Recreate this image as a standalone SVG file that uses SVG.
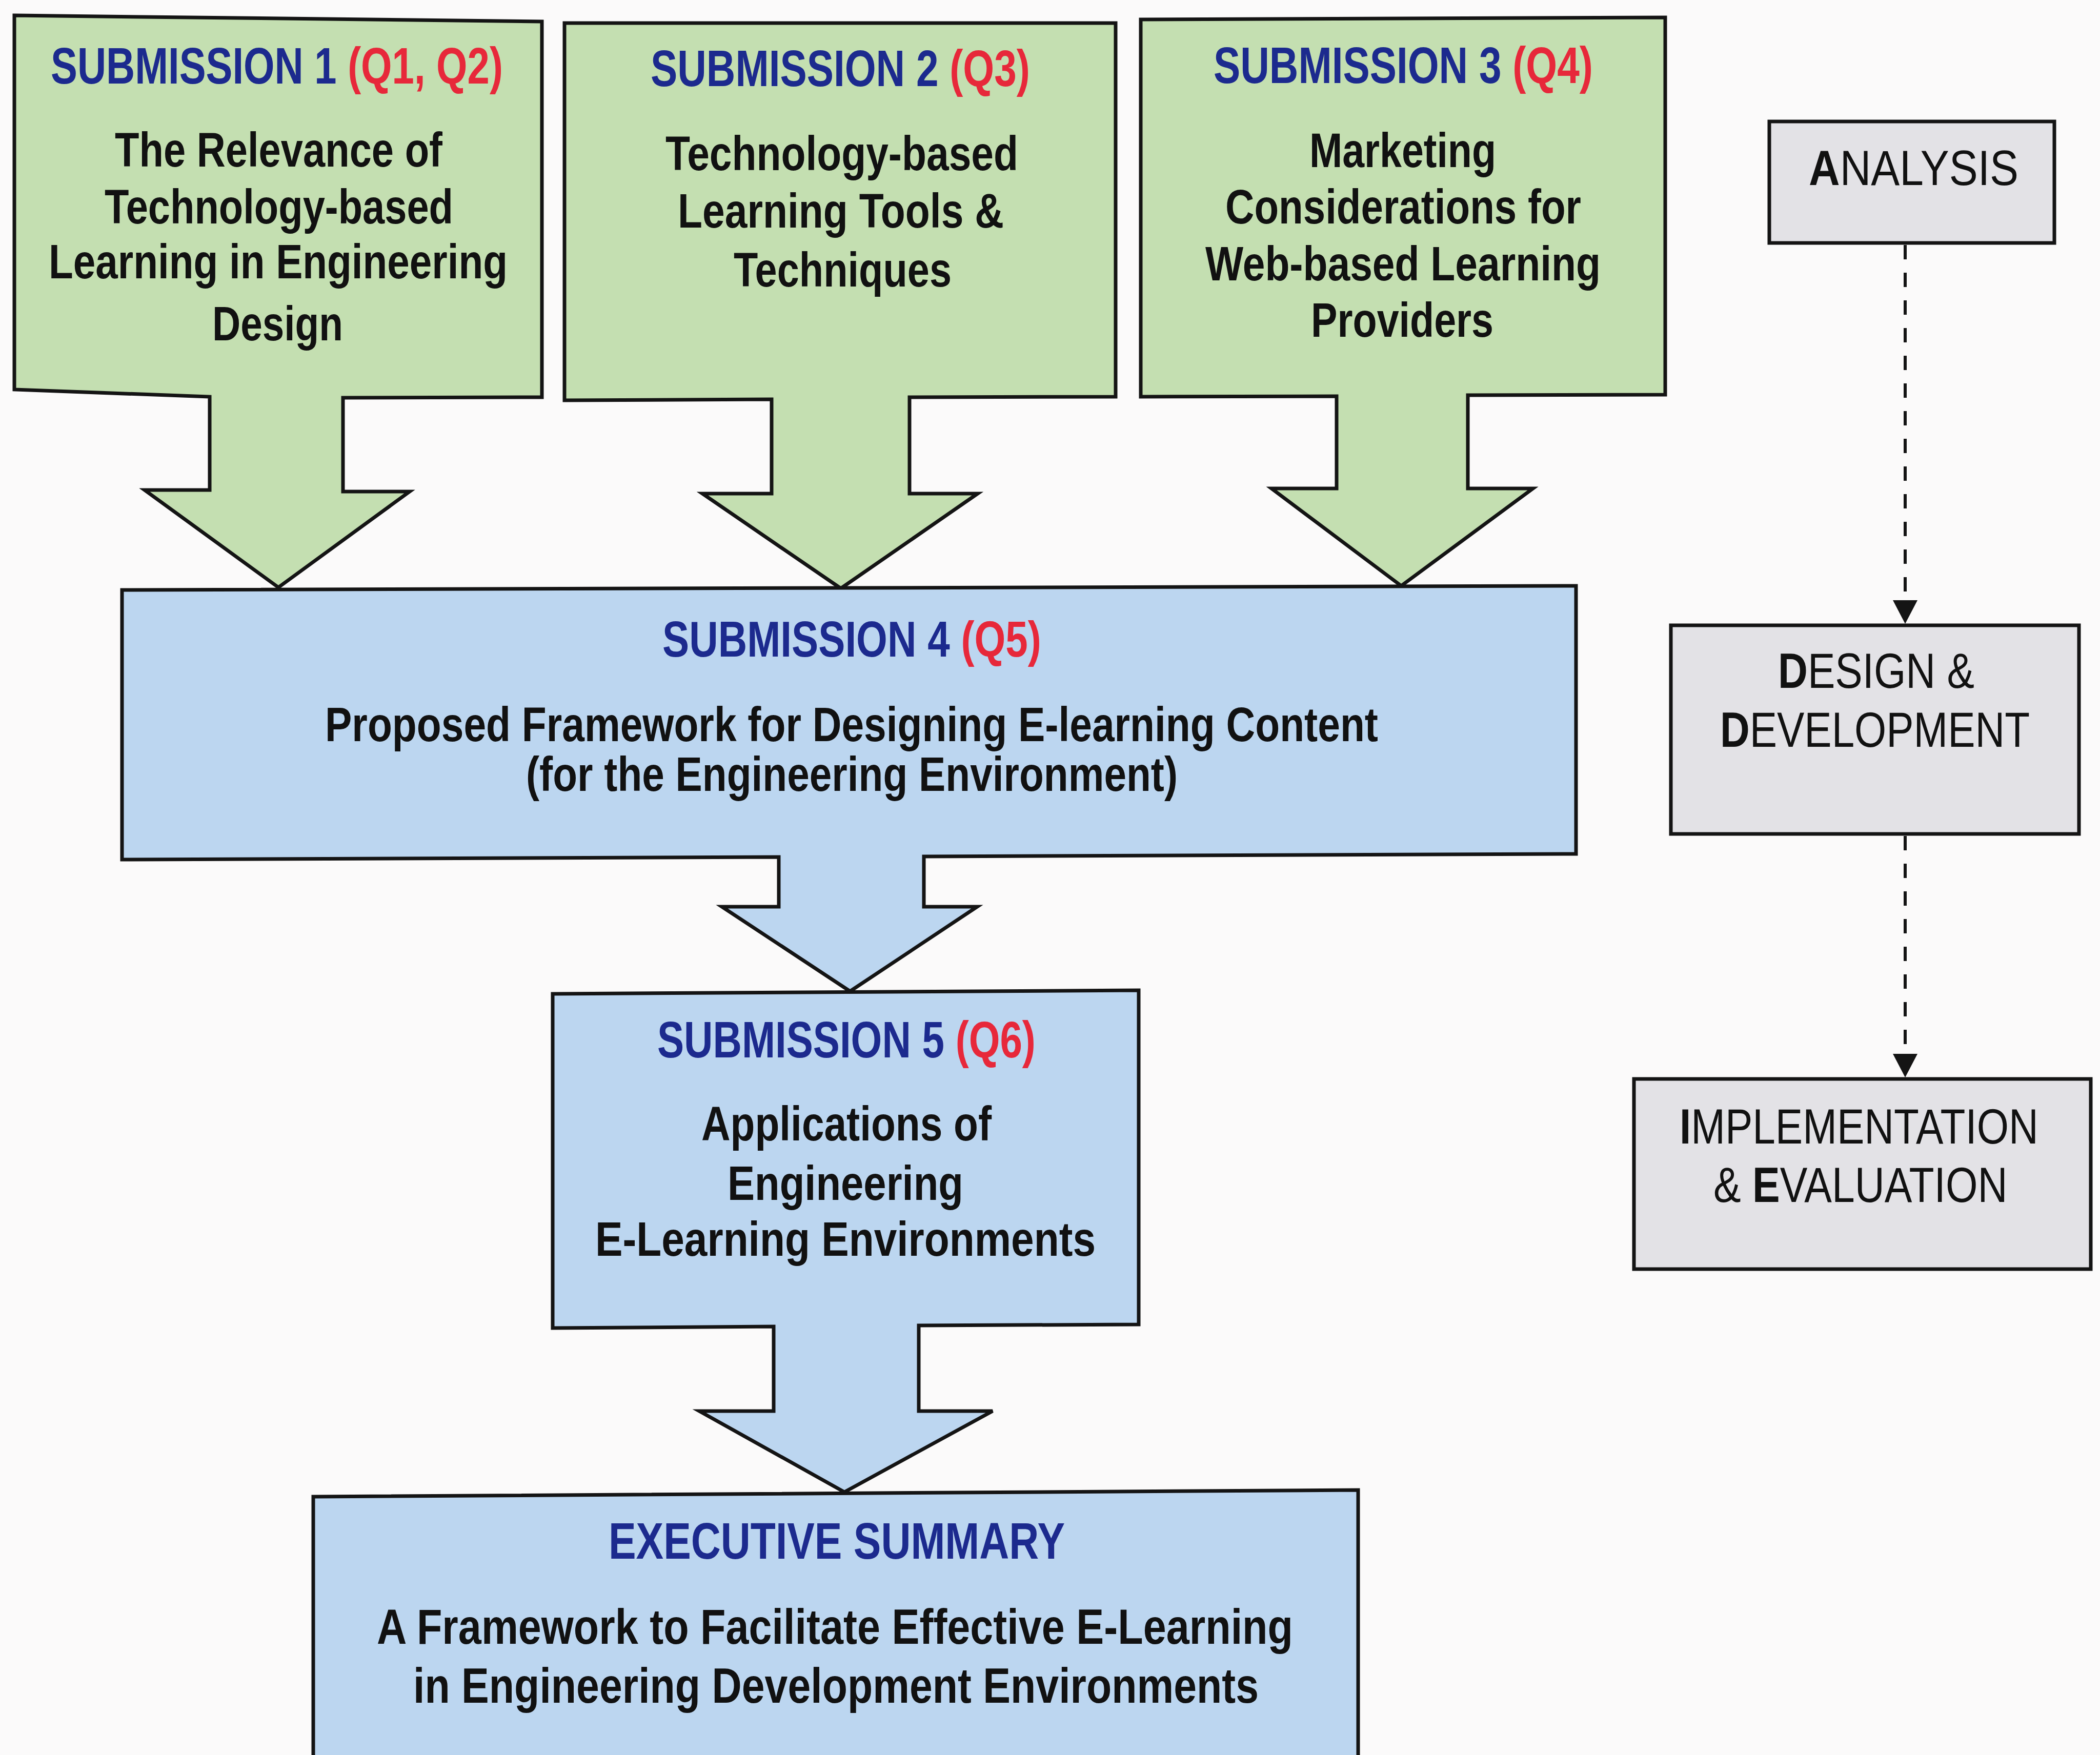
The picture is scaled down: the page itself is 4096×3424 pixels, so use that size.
<svg xmlns="http://www.w3.org/2000/svg" width="4096" height="3424" viewBox="0 0 4096 3424">
  <defs>
    <style>
      .bg { fill: #fbfafa; }
      .box { stroke: #141414; stroke-width: 7; stroke-linejoin: miter; }
      .green { fill: #c4dfb1; }
      .blue { fill: #bcd6f0; }
      .grey { fill: #e3e2e6; }
      .t { font-family: "Liberation Sans", Arial, sans-serif; font-weight: bold; fill: #111111; }
      .hd { font-size: 100px; }
      .bd { font-size: 94px; }
      .navy { fill: #1c2a8e; }
      .red { fill: #e7283a; }
      .ph { font-family: "Liberation Sans", Arial, sans-serif; font-weight: normal; font-size: 96px; fill: #111111; }
      .k { font-weight: bold; }
      .dash { fill: none; stroke: #141414; stroke-width: 6; stroke-dasharray: 28 26; }
    </style>
    <marker id="head" markerUnits="userSpaceOnUse" viewBox="0 0 46 48" markerWidth="46" markerHeight="48" refX="46" refY="24" orient="auto">
      <path d="M0,0 L46,24 L0,48 z" fill="#141414"/>
    </marker>
  </defs>

  <rect class="bg" x="0" y="0" width="4096" height="3424"/>

  <!-- Submission 1 -->
  <g id="submission1">
    <polygon class="box green" points="28,30 1057,42 1057,775 669,776 669,959 799,959 543,1146 282,956 409,956 409,774 28,760"/>
    <text class="t hd" transform="translate(99,163) scale(0.778,1)"><tspan class="navy">SUBMISSION 1 </tspan><tspan class="red">(Q1, Q2)</tspan></text>
    <text class="t bd" x="224" y="325" textLength="639" lengthAdjust="spacingAndGlyphs">The Relevance of</text>
    <text class="t bd" x="204" y="436" textLength="680" lengthAdjust="spacingAndGlyphs">Technology-based</text>
    <text class="t bd" x="95" y="543" textLength="895" lengthAdjust="spacingAndGlyphs">Learning in Engineering</text>
    <text class="t bd" x="414" y="664" textLength="255" lengthAdjust="spacingAndGlyphs">Design</text>
  </g>

  <!-- Submission 2 -->
  <g id="submission2">
    <polygon class="box green" points="1101,45 2176,45 2176,774 1774,775 1774,963 1907,963 1640,1148 1370,963 1505,963 1505,779 1101,781"/>
    <text class="t hd" transform="translate(1269,168) scale(0.7834,1)"><tspan class="navy">SUBMISSION 2 </tspan><tspan class="red">(Q3)</tspan></text>
    <text class="t bd" x="1298" y="332" textLength="688" lengthAdjust="spacingAndGlyphs">Technology-based</text>
    <text class="t bd" x="1322" y="444" textLength="636" lengthAdjust="spacingAndGlyphs">Learning Tools &amp;</text>
    <text class="t bd" x="1431" y="559" textLength="425" lengthAdjust="spacingAndGlyphs">Techniques</text>
  </g>

  <!-- Submission 3 -->
  <g id="submission3">
    <polygon class="box green" points="2225,38 3248,34 3248,770 2863,771 2863,953 2990,953 2733,1143 2480,953 2607,953 2607,773 2225,774"/>
    <text class="t hd" transform="translate(2367,162) scale(0.7834,1)"><tspan class="navy">SUBMISSION 3 </tspan><tspan class="red">(Q4)</tspan></text>
    <text class="t bd" x="2554" y="326" textLength="364" lengthAdjust="spacingAndGlyphs">Marketing</text>
    <text class="t bd" x="2390" y="436" textLength="694" lengthAdjust="spacingAndGlyphs">Considerations for</text>
    <text class="t bd" x="2351" y="547" textLength="771" lengthAdjust="spacingAndGlyphs">Web-based Learning</text>
    <text class="t bd" x="2557" y="657" textLength="356" lengthAdjust="spacingAndGlyphs">Providers</text>
  </g>

  <!-- Submission 4 -->
  <g id="submission4">
    <polygon class="box blue" points="238,1151 3074,1143 3074,1666 1802,1671 1802,1769 1906,1769 1658,1934 1408,1769 1519,1769 1519,1672 238,1677"/>
    <text class="t" font-size="98" transform="translate(1292,1281) scale(0.7983,1)"><tspan class="navy">SUBMISSION 4 </tspan><tspan class="red">(Q5)</tspan></text>
    <text class="t" font-size="95" x="634" y="1446" textLength="2054" lengthAdjust="spacingAndGlyphs">Proposed Framework for Designing E-learning Content</text>
    <text class="t" font-size="95" x="1026" y="1543" textLength="1271" lengthAdjust="spacingAndGlyphs">(for the Engineering Environment)</text>
  </g>

  <!-- Submission 5 -->
  <g id="submission5">
    <polygon class="box blue" points="1078,1939 2221,1932 2221,2584 1792,2586 1792,2753 1936,2753 1647,2911 1364,2753 1509,2753 1509,2588 1078,2591"/>
    <text class="t hd" transform="translate(1282,2063) scale(0.7813,1)"><tspan class="navy">SUBMISSION 5 </tspan><tspan class="red">(Q6)</tspan></text>
    <text class="t bd" x="1368" y="2225" textLength="566" lengthAdjust="spacingAndGlyphs">Applications of</text>
    <text class="t bd" x="1419" y="2341" textLength="460" lengthAdjust="spacingAndGlyphs">Engineering</text>
    <text class="t bd" x="1161" y="2450" textLength="976" lengthAdjust="spacingAndGlyphs">E-Learning Environments</text>
  </g>

  <!-- Executive summary -->
  <g id="executive-summary">
    <polygon class="box blue" points="611,2920 2649,2907 2649,3440 611,3440"/>
    <text class="t navy" font-size="101" x="1187" y="3041" textLength="890" lengthAdjust="spacingAndGlyphs">EXECUTIVE SUMMARY</text>
    <text class="t" font-size="97" x="735" y="3207" textLength="1787" lengthAdjust="spacingAndGlyphs">A Framework to Facilitate Effective E-Learning</text>
    <text class="t" font-size="97" x="806" y="3322" textLength="1649" lengthAdjust="spacingAndGlyphs">in Engineering Development Environments</text>
  </g>

  <!-- Phase boxes: the initial letter of each word is set in bold -->
  <g id="analysis">
    <rect class="box grey" x="3451" y="237" width="556" height="237"/>
    <text class="ph" font-size="92" transform="translate(3528,361) scale(0.8747,1)"><tspan class="k">A</tspan>NALYSIS</text>
  </g>
  <g id="design-development">
    <rect class="box grey" x="3259" y="1220" width="796" height="407"/>
    <text class="ph" transform="translate(3468,1342) scale(0.8348,1)"><tspan class="k">D</tspan>ESIGN &amp;</text>
    <text class="ph" transform="translate(3355,1457) scale(0.8326,1)"><tspan class="k">D</tspan>EVELOPMENT</text>
  </g>
  <g id="implementation-evaluation">
    <rect class="box grey" x="3187" y="2105" width="891" height="371"/>
    <text class="ph" transform="translate(3276,2231) scale(0.834,1)"><tspan class="k">I</tspan>MPLEMENTATION</text>
    <text class="ph" transform="translate(3342,2345) scale(0.838,1)">&amp; <tspan class="k">E</tspan>VALUATION</text>
  </g>

  <!-- Dashed phase connectors -->
  <g id="connectors">
    <line class="dash" x1="3716" y1="478" x2="3716" y2="1217" marker-end="url(#head)"/>
    <line class="dash" x1="3716" y1="1631" x2="3716" y2="2102" marker-end="url(#head)"/>
  </g>
</svg>
